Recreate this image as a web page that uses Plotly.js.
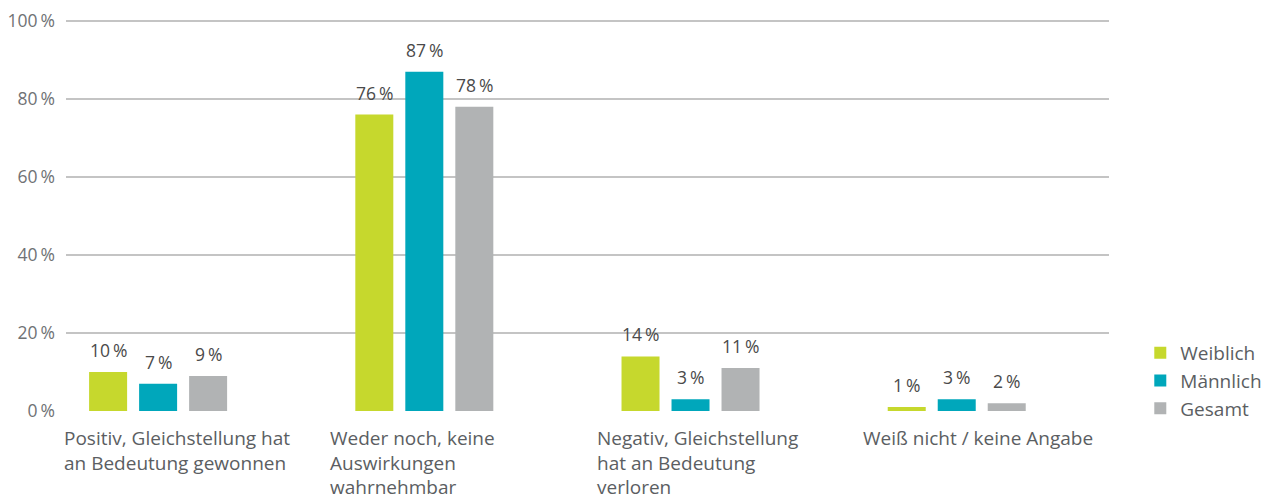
<!DOCTYPE html>
<html>
<head>
<meta charset="utf-8">
<script src="https://cdn.plot.ly/plotly-3.0.1.min.js"></script>
<style>html,body{margin:0;padding:0;background:#fff;}#chart{width:1269px;height:500px;}</style>
</head>
<body>
<div id="chart"></div>
<script>
const categories = [
  "Positiv, Gleichstellung hat<br>an Bedeutung gewonnen",
  "Weder noch, keine<br>Auswirkungen<br>wahrnehmbar",
  "Negativ, Gleichstellung<br>hat an Bedeutung<br>verloren",
  "Weiß nicht / keine Angabe"
];
const seriesNames = ["Weiblich", "Männlich", "Gesamt"];
const weiblich = [10, 76, 14, 1];
const maennlich = [7, 87, 3, 3];
const gesamt = [9, 78, 11, 2];
const seriesColors = ["#c6d82d", "#00a7bb", "#b1b3b4"];
const yTicks = [0, 20, 40, 60, 80, 100];

const series = [weiblich, maennlich, gesamt];
const bargap = 0.4365;
const slot = (1 - bargap) / series.length;
const xRange = [-0.346, 3.572];
const fontFam = '"Open Sans", "Noto Sans", sans-serif';
const pct = '\u2009%';

const traces = series.map((vals, j) => ({
  type: 'bar',
  name: seriesNames[j],
  x: categories.map((c, i) => i),
  y: vals,
  marker: {color: seriesColors[j]},
  hoverinfo: 'none'
}));

const annotations = [];
series.forEach((vals, j) => {
  vals.forEach((v, i) => {
    annotations.push({
      x: i + (j - (series.length - 1) / 2) * slot,
      y: v, xref: 'x', yref: 'y',
      text: v + pct, showarrow: false,
      xanchor: 'center', yanchor: 'bottom', yshift: 8,
      font: {family: fontFam, size: 17.5, color: '#4a4a4a'}
    });
  });
});
categories.forEach((c, i) => {
  annotations.push({
    x: (i - 0.36 - xRange[0]) / (xRange[1] - xRange[0]), y: 0, xref: 'paper', yref: 'paper',
    text: c, showarrow: false, align: 'left',
    xanchor: 'left', yanchor: 'top', yshift: -12,
    font: {family: fontFam, size: 19, color: '#5b5e62'}
  });
});

const layout = {
  width: 1269, height: 500,
  margin: {l: 66, r: 160, t: 20, b: 89, autoexpand: false},
  paper_bgcolor: '#ffffff', plot_bgcolor: '#ffffff',
  barmode: 'group', bargap: bargap, bargroupgap: 0.24,
  showlegend: true,
  legend: {
    x: 1.03, xanchor: 'left', y: 0.197, yanchor: 'top',
    font: {family: fontFam, size: 19, color: '#5b5e62'},
    tracegroupgap: 0, bgcolor: 'rgba(0,0,0,0)'
  },
  xaxis: {
    type: 'linear', range: xRange,
    showticklabels: false, showgrid: false, zeroline: false, showline: false, ticks: ''
  },
  yaxis: {
    range: [0, 100.26], tickvals: yTicks, ticktext: yTicks.map(v => v + pct),
    showgrid: true, gridcolor: '#c4c4c4', gridwidth: 1.6,
    zeroline: false, showline: false, ticks: '',
    ticklabelstandoff: 10,
    tickfont: {family: fontFam, size: 17.5, color: '#707275'}
  },
  annotations: annotations
};

Plotly.newPlot('chart', traces, layout, {displayModeBar: false, staticPlot: true});
</script>
</body>
</html>
